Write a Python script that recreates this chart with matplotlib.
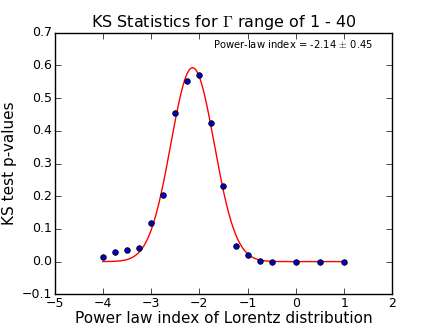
import numpy as np
import matplotlib
matplotlib.use("Agg")
import matplotlib.pyplot as plt

plt.style.use('classic')

x_idx = [-4.0, -3.75, -3.5, -3.25, -3.0, -2.75, -2.5, -2.25, -2.0, -1.75,
         -1.5, -1.25, -1.0, -0.75, -0.5, 0.0, 0.5, 1.0]
p_vals = [0.014, 0.029, 0.036, 0.043, 0.119, 0.203, 0.454, 0.552, 0.570, 0.424,
          0.230, 0.049, 0.021, 0.003, 0.0, 0.0, 0.0, 0.0]

fit_amp = 0.593
fit_mu = -2.14
fit_sigma = 0.45

fig = plt.figure(figsize=(4.36, 3.27), dpi=100, facecolor='white')
ax = fig.add_subplot(111)

xf = np.linspace(min(x_idx), max(x_idx), 400)
yf = fit_amp * np.exp(-(xf - fit_mu) ** 2 / (2 * fit_sigma ** 2))
ax.plot(xf, yf, color='red', lw=1)
ax.plot(x_idx, p_vals, 'o', color='#0000cc', markeredgecolor='black', markersize=4, markeredgewidth=0.6)

ax.set_xlim(-5, 2)
ax.set_ylim(-0.1, 0.7)
ax.set_xticks(np.arange(-5, 3, 1))
ax.set_yticks(np.arange(-0.1, 0.71, 0.1))
ax.tick_params(labelsize=9, pad=2)
ax.set_title(r'KS Statistics for $\Gamma$ range of 1 - 40', fontsize=11.5, pad=4)
ax.set_xlabel('Power law index of Lorentz distribution', fontsize=11, labelpad=1)
ax.set_ylabel('KS test p-values', fontsize=11, labelpad=3)
ax.text(0.707, 0.957, r'Power-law index = -2.14 $\pm$ 0.45', transform=ax.transAxes,
        ha='center', va='center', fontsize=7.2)

fig.savefig('out.png', dpi=100, facecolor='white')
